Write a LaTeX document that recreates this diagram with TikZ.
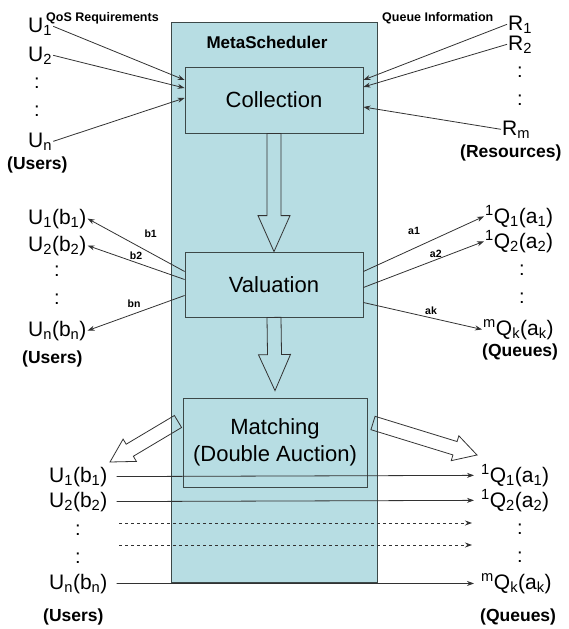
\documentclass[tikz,border=0pt]{standalone}
\usepackage{fontspec}
\setmainfont{Liberation Sans}
\usetikzlibrary{arrows.meta,calc}

\definecolor{metafill}{RGB}{183,221,227}
\definecolor{boxline}{RGB}{60,72,72}
\definecolor{arrowline}{RGB}{50,50,50}

% hollow block arrow: from, to, head length, head half width
\newcommand\hollowarrow[4]{%
  \coordinate (ha-base) at ($(#2)!#3!(#1)$);
  \draw[hollow] ($(#1)!7pt!90:(#2)$) -- ($(ha-base)!7pt!90:(#2)$)
    -- ($(ha-base)!#4!90:(#2)$) -- (#2) -- ($(ha-base)!#4!-90:(#2)$)
    -- ($(ha-base)!7pt!-90:(#2)$) -- ($(#1)!7pt!-90:(#2)$) -- cycle;
}

\begin{document}
\begin{tikzpicture}[x=1pt, y=-1pt,
    stage/.style={draw=boxline, thick, fill=metafill, minimum width=178pt, align=center, font=\fontsize{22}{27}\selectfont},
    item/.style={anchor=base west, inner sep=1pt, font=\fontsize{21}{25}\selectfont},
    group/.style={anchor=base west, inner sep=0pt, font=\fontsize{17.5}{20}\selectfont\bfseries},
    note/.style={anchor=base west, inner sep=0pt, font=\fontsize{12.5}{14}\selectfont\bfseries},
    lbl/.style={inner sep=1pt, font=\fontsize{10.5}{12}\selectfont\bfseries},
    dots/.style={align=center, inner sep=0pt, font=\fontsize{20}{28}\selectfont},
    arrow/.style={->, draw=arrowline, thick, >={Stealth[length=7pt,width=5pt]}},
    hollow/.style={draw=arrowline, thick, line join=miter}
]
    \useasboundingbox (0,0) rectangle (569,629);

    % MetaScheduler column
    \node[draw=boxline, thick, fill=metafill, minimum width=206pt, minimum height=560pt, inner sep=0pt] (meta) at (274,302) {};
    \node[font=\fontsize{17}{20}\selectfont\bfseries] (metatitle) at (267,42) {MetaScheduler};

    \node[stage, minimum height=66pt] (coll) at (274,100) {Collection};
    \node[stage, minimum height=65pt] (val) at (274,284.5) {Valuation};
    \node[stage, minimum width=184pt, minimum height=89pt] (match) at (275,442.5) {Matching\\(Double Auction)};

    \hollowarrow{coll.south}{val.north}{36pt}{16pt}
    \coordinate (matchtip) at ([yshift=7pt]match.north);
    \hollowarrow{val.south}{matchtip}{36pt}{16pt}

    % Users and resources
    \node[item] (u1) at (27,32) {U\textsubscript{1}};
    \node[note] (qos) at (46,21) {QoS Requirements};
    \node[item] (u2) at (27,61) {U\textsubscript{2}};
    \node[dots] (udots) at (37,97.5) {:\\:};
    \node[item] (un) at (27,147) {U\textsubscript{n}};
    \node[group] (users1) at (7,169) {(Users)};

    \node[note] (qinfo) at (382,21) {Queue Information};
    \node[item] (r1) at (507,30) {R\textsubscript{1}};
    \node[item] (r2) at (507,50) {R\textsubscript{2}};
    \node[dots] (rdots) at (520,86.5) {:\\:};
    \node[item] (rm) at (501,135) {R\textsubscript{m}};
    \node[group] (resources) at (460,157) {(Resources)};

    \draw[arrow] (u1.east) -- ([yshift=20pt]coll.west);
    \draw[arrow] (u2.east) -- ([yshift=12pt]coll.west);
    \draw[arrow] (un.east) -- ([yshift=2pt]coll.west);
    \draw[arrow] (r1.west) -- ([yshift=20pt]coll.east);
    \draw[arrow] (r2.west) -- ([yshift=13pt]coll.east);
    \draw[arrow] (rm.west) -- ([yshift=-7pt]coll.east);

    % Valuation results
    \node[item] (mu1) at (27,224) {U\textsubscript{1}(b\textsubscript{1})};
    \node[item] (mu2) at (27,251) {U\textsubscript{2}(b\textsubscript{2})};
    \node[dots] (mudots) at (57,285.5) {:\\:};
    \node[item] (mun) at (27,336) {U\textsubscript{n}(b\textsubscript{n})};
    \node[group] (users2) at (22,363) {(Users)};

    \node[item] (mq1) at (484,223) {\textsuperscript{1}Q\textsubscript{1}(a\textsubscript{1})};
    \node[item] (mq2) at (484,248) {\textsuperscript{1}Q\textsubscript{2}(a\textsubscript{2})};
    \node[dots] (mqdots) at (522,284) {:\\:};
    \node[item] (mqk) at (482,335) {\textsuperscript{m}Q\textsubscript{k}(a\textsubscript{k})};
    \node[group] (queues2) at (482,356) {(Queues)};

    \draw[arrow] ([yshift=13pt]val.west) -- (mu1.east) node[pos=0.35, above=14pt, lbl] {b1};
    \draw[arrow] ([yshift=5pt]val.west) -- (mu2.east) node[pos=0.5, above=2pt, lbl] {b2};
    \draw[arrow] ([yshift=-11pt]val.west) -- (mun.east) node[pos=0.52, above=5pt, lbl] {bn};
    \draw[arrow] ([yshift=13pt]val.east) -- (mq1.west) node[pos=0.42, above=12pt, lbl] {a1};
    \draw[arrow] ([yshift=-3pt]val.east) -- (mq2.west) node[pos=0.6, above=1pt, lbl] {a2};
    \draw[arrow] ([yshift=-18pt]val.east) -- (mqk.west) node[pos=0.57, above=2pt, lbl] {ak};

    % Matching results
    \node[item] (bu1) at (48,482) {U\textsubscript{1}(b\textsubscript{1})};
    \node[item] (bu2) at (48,507) {U\textsubscript{2}(b\textsubscript{2})};
    \node[dots] (budots) at (78,544) {:\\:};
    \node[item] (bun) at (48,589) {U\textsubscript{n}(b\textsubscript{n})};
    \node[group] (users3) at (43,621) {(Users)};

    \node[item] (bq1) at (480,482) {\textsuperscript{1}Q\textsubscript{1}(a\textsubscript{1})};
    \node[item] (bq2) at (480,507) {\textsuperscript{1}Q\textsubscript{2}(a\textsubscript{2})};
    \node[dots] (bqdots) at (520,543.5) {:\\:};
    \node[item] (bqk) at (480,589) {\textsuperscript{m}Q\textsubscript{k}(a\textsubscript{k})};
    \node[group] (queues3) at (480,621) {(Queues)};

    \coordinate (lefttail) at (178,421.5);
    \coordinate (lefttip) at (110,462);
    \coordinate (righttail) at (373,423);
    \coordinate (righttip) at (477,455);
    \hollowarrow{lefttail}{lefttip}{23pt}{13pt}
    \hollowarrow{righttail}{righttip}{23pt}{13pt}

    \draw[arrow] ([xshift=8pt]bu1.east) -- ([xshift=-6pt]bq1.west);
    \draw[arrow] ([xshift=8pt]bu2.east) -- ([xshift=-6pt]bq2.west);
    \coordinate (dash1l) at (119,523);
    \coordinate (dash1r) at (472,523);
    \coordinate (dash2l) at (119,545);
    \coordinate (dash2r) at (472,545);
    \draw[arrow, dashed] (dash1l) -- (dash1r);
    \draw[arrow, dashed] (dash2l) -- (dash2r);
    \draw[arrow] ([xshift=8pt]bun.east) -- ([xshift=-6pt]bqk.west);

\end{tikzpicture}
\end{document}
